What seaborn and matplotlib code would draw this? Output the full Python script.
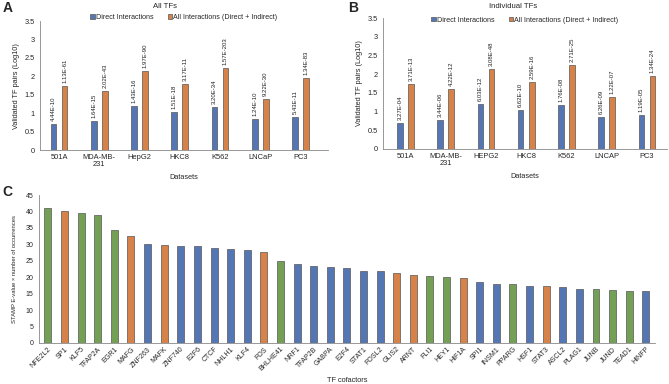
import matplotlib
matplotlib.use("Agg")
import matplotlib.pyplot as plt
import seaborn as sns
import pandas as pd
import numpy as np

sns.set_style("white")
plt.rcParams['font.family'] = ['Liberation Sans', 'DejaVu Sans']

# ---------------- data ----------------
datasets_a = ["501A", "MDA-MB-\n231", "HepG2", "HKC8", "K562", "LNCaP", "PC3"]
datasets_b = ["501A", "MDA-MB-\n231", "HEPG2", "HKC8", "K562", "LNCAP", "PC3"]
series_names = ["Direct Interactions", "All Interactions (Direct + Indirect)"]

direct_a = [0.70, 0.78, 1.20, 1.04, 1.17, 0.85, 0.90]
all_a = [1.74, 1.60, 2.14, 1.79, 2.23, 1.38, 1.95]
direct_a_p = ["4.44E-10", "1.64E-15", "1.43E-16", "1.51E-18", "3.20E-34", "1.24E-10", "5.43E-11"]
all_a_p = ["1.13E-61", "2.02E-43", "1.97E-90", "3.17E-11", "1.57E-203", "9.22E-30", "1.34E-83"]

direct_b = [0.70, 0.78, 1.20, 1.04, 1.17, 0.85, 0.90]
all_b = [1.75, 1.60, 2.15, 1.80, 2.25, 1.38, 1.95]
direct_b_p = ["3.27E-04", "3.44E-06", "6.03E-12", "6.62E-10", "1.76E-08", "6.26E-09", "1.19E-05"]
all_b_p = ["3.71E-13", "4.22E-12", "3.08E-48", "2.59E-16", "2.71E-25", "1.22E-07", "1.34E-24"]

cofactors = ["NFE2L2", "SP1", "KLF5", "TFAP2A", "EGR1", "MAFG", "ZNF263", "MAFK", "ZNF740",
             "E2F6", "CTCF", "NHLH1", "KLF4", "FOS", "BHLHE41", "NRF1", "TFAP2B", "GABPA",
             "E2F4", "STAT1", "FOSL2", "GLIS2", "ARNT", "FLI1", "HEY1", "HIF1A", "SPI1",
             "INSM1", "PPARG", "HSF1", "STAT3", "ASCL2", "PLAG1", "JUNB", "JUND", "TEAD1", "HINFP"]
cofactor_values = [41.2, 40.2, 39.5, 38.9, 34.3, 32.5, 30.1, 29.9, 29.6,
                   29.5, 28.8, 28.6, 28.4, 27.7, 25.0, 24.1, 23.5, 23.2,
                   22.9, 21.9, 21.8, 21.4, 20.7, 20.4, 20.2, 19.9, 18.4,
                   18.0, 17.8, 17.4, 17.2, 16.9, 16.5, 16.4, 16.1, 15.9, 15.7]
cofactor_group = ["g", "o", "g", "g", "g", "o", "b", "o", "b",
                  "b", "b", "b", "b", "o", "g", "b", "b", "b",
                  "b", "b", "b", "o", "o", "g", "g", "o", "b",
                  "b", "g", "b", "o", "b", "b", "g", "g", "g", "b"]

BLUE = "#4472C4"
ORANGE = "#ED7D31"
GREEN = "#70AD47"

fig = plt.figure(figsize=(6.69, 3.84), dpi=100)

def draw_panel(rect, cats, d, a, dp, ap, xlim, legend_y):
    ax = fig.add_axes(rect)
    df = pd.DataFrame({
        "Dataset": list(range(len(cats))) * 2,
        "Series": [series_names[0]] * len(cats) + [series_names[1]] * len(cats),
        "Value": list(d) + list(a),
    })
    sns.barplot(data=df, x="Dataset", y="Value", hue="Series", hue_order=series_names,
                palette=[BLUE, ORANGE], width=0.55, gap=0.49, ax=ax,
                edgecolor="#555555", linewidth=0.5, legend=True)
    for cont, labels in zip(ax.containers, [dp, ap]):
        for patch, lab in zip(cont, labels):
            ax.text(patch.get_x() + patch.get_width() / 2, patch.get_height() + 0.08, lab,
                    rotation=90, ha="center", va="bottom", fontsize=4.3, color="#222222")
    ax.set_ylim(0, 3.5)
    ax.set_yticks(np.arange(0, 3.51, 0.5))
    ax.set_yticklabels(["0", "0.5", "1", "1.5", "2", "2.5", "3", "3.5"], fontsize=5.3)
    ax.set_xticks(range(len(cats)))
    ax.set_xticklabels(cats, fontsize=5.4, linespacing=1.0)
    ax.set_xlim(*xlim)
    ax.set_xlabel("Datasets", fontsize=5.3, labelpad=4)
    ax.set_ylabel("Validated TF pairs (Log10)", fontsize=5.3, labelpad=3)
    for s in ["top", "right"]:
        ax.spines[s].set_visible(False)
    for s in ["left", "bottom"]:
        ax.spines[s].set_color("#888888")
        ax.spines[s].set_linewidth(0.6)
    ax.tick_params(axis="y", length=2, width=0.5, color="#888888", pad=2)
    ax.tick_params(axis="x", length=0, pad=3)
    ax.legend(loc="center", bbox_to_anchor=(0.5, legend_y), ncol=2, frameon=False,
              fontsize=5.1, handlelength=0.6, handleheight=0.6, handletextpad=0.2,
              columnspacing=2.0, borderaxespad=0)
    return ax

axA = draw_panel([0.060, 0.609, 0.430, 0.336], datasets_a, direct_a, all_a, direct_a_p, all_a_p,
                 (-0.47, 6.68), 1.03)
axB = draw_panel([0.5725, 0.612, 0.4245, 0.341], datasets_b, direct_b, all_b, direct_b_p, all_b_p,
                 (-0.56, 6.5), 0.985)

fig.text(165 / 669, 1 - 6 / 384, "All TFs", fontsize=5.6, ha="center", va="center")
fig.text(513 / 669, 1 - 6 / 384, "Individual TFs", fontsize=5.6, ha="center", va="center")

# ---------------- panel C ----------------
axC = fig.add_axes([0.058, 0.107, 0.921, 0.385])
dfc = pd.DataFrame({"TF": cofactors, "Value": cofactor_values, "Group": cofactor_group})
sns.barplot(data=dfc, x="TF", y="Value", hue="Group", hue_order=["b", "o", "g"],
            palette={"b": BLUE, "o": ORANGE, "g": GREEN}, dodge=False, width=0.42,
            edgecolor="#555555", linewidth=0.5, legend=False, ax=axC)
axC.set_ylim(0, 45)
axC.set_yticks(np.arange(0, 46, 5))
axC.set_yticklabels([str(v) for v in range(0, 46, 5)], fontsize=5.0)
axC.set_xlim(-0.55, 36.55)
axC.set_xticks(range(len(cofactors)))
axC.set_xticklabels(cofactors, rotation=45, ha="right", rotation_mode="anchor", fontsize=5.0)
axC.tick_params(axis="x", length=0, pad=2)
axC.tick_params(axis="y", length=2, width=0.5, color="#888888", pad=2)
axC.set_xlabel("TF cofactors", fontsize=5.3, labelpad=3)
axC.set_ylabel("STAMP E-value \u00d7 number of occurrences", fontsize=4.2, labelpad=6)
for s in ["top", "right"]:
    axC.spines[s].set_visible(False)
for s in ["left", "bottom"]:
    axC.spines[s].set_color("#888888")
    axC.spines[s].set_linewidth(0.6)

# panel letters
fig.text(0.004, 1 - 8 / 384, "A", fontsize=10, fontweight="bold", va="center")
fig.text(348 / 669, 1 - 8 / 384, "B", fontsize=10, fontweight="bold", va="center")
fig.text(0.004, 1 - 192 / 384, "C", fontsize=10, fontweight="bold", va="center")

fig.savefig("out.png", dpi=100)
